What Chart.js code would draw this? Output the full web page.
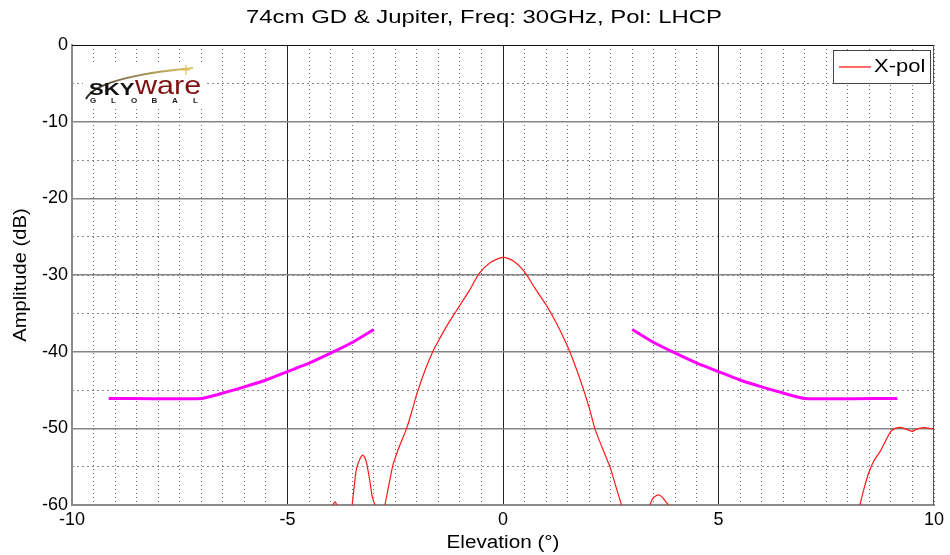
<!DOCTYPE html>
<html>
<head>
<meta charset="utf-8">
<script src="https://cdn.jsdelivr.net/npm/chart.js@4.4.1/dist/chart.umd.min.js"></script>
<style>
  html, body { margin: 0; background: #fff; }
  #wrap { width: 950px; height: 555px; }
</style>
</head>
<body>
<div id="wrap"><canvas id="chart"></canvas></div>
<script>
'use strict';

// ---------------------------------------------------------------------------
// Data
// ---------------------------------------------------------------------------

const TITLE   = '74cm GD & Jupiter, Freq: 30GHz, Pol: LHCP';
const X_LABEL = 'Elevation (°)';
const Y_LABEL = 'Amplitude (dB)';

// measured X-pol pattern, null = below -60 dB floor
const xpolAngle = [
  -3.95, -3.9, -3.85, null,
  -3.5, -3.45, -3.4, -3.32, -3.25, -3.18, -3.1, -3.03, -2.97, null,
  -2.74, -2.6, -2.545, -2.4, -2.235, -2.1, -2.0, -1.8, -1.63, -1.46, -1.3,
  -1.075, -0.8, -0.55, -0.3, 0, 0.25, 0.5, 0.75, 1.0, 1.25, 1.55, 1.8,
  2.0, 2.13, 2.3, 2.48, 2.62, 2.75, null,
  3.41, 3.47, 3.55, 3.62, 3.7, 3.78, 3.84, null,
  8.28, 8.38, 8.48, 8.6, 8.75, 8.9, 9.0, 9.1, 9.25, 9.4, 9.5, 9.6, 9.75, 9.9, 10,
];
const xpolLevel = [
  -60, -59.6, -60, null,
  -60, -57.5, -55.3, -54.0, -53.5, -54.2, -56.5, -59.0, -60, null,
  -60, -56.0, -54.6, -52.3, -50.0, -47.5, -45.5, -42.3, -40.0, -38.2, -36.6,
  -34.6, -32.2, -29.8, -28.4, -27.7, -28.2, -29.6, -31.8, -33.9, -36.4, -40.0, -43.8,
  -47.3, -50.0, -52.5, -55.0, -57.6, -60, null,
  -60, -59.2, -58.8, -58.7, -59.0, -59.6, -60, null,
  -60, -57.8, -55.9, -54.3, -53.0, -51.4, -50.4, -50.0, -49.9, -50.2, -50.4, -50.1, -49.9, -50.0, -50.1,
];

// X-pol mask envelope (two branches)
const maskAngle = [
  -9.15, -7, -6.5, -6, -5.5, -5, -4.5, -4, -3.5, -3, null,
  3, 3.5, 4, 4.5, 5, 5.5, 6, 6.5, 7, 9.15,
];
const maskLevel = [
  -46.1, -46.1, -45.4, -44.6, -43.7, -42.6, -41.5, -40.2, -38.8, -37.1, null,
  -37.1, -38.8, -40.2, -41.5, -42.6, -43.7, -44.6, -45.4, -46.1, -46.1,
];

const xTicks = { min: -10, max: 10, major: 5, minor: 0.5 };
const yTicks = { min: -60, max: 0, major: 10, minor: 5 };

const XPOL_COLOR = '#ff1a1a';
const MASK_COLOR = '#ff00ff';

// ---------------------------------------------------------------------------
// Helpers
// ---------------------------------------------------------------------------

const FONT = '"Liberation Sans", Arial, sans-serif';

function pairs(xs, ys) {
  return xs.map((x, i) => (x == null ? { x: NaN, y: null } : { x, y: ys[i] }));
}

function stretchText(ctx, text, x, y, o) {
  ctx.save();
  ctx.translate(x, y);
  if (o.rotate) ctx.rotate(o.rotate);
  ctx.font = o.font;
  let sx = o.sx || 1;
  if (o.fitWidth) sx = o.fitWidth / ctx.measureText(text).width;
  ctx.scale(sx, 1);
  ctx.fillStyle = o.color || '#000';
  ctx.textAlign = o.align || 'center';
  ctx.textBaseline = 'middle';
  ctx.fillText(text, 0, 0);
  ctx.restore();
}

// ---------------------------------------------------------------------------
// Plugins
// ---------------------------------------------------------------------------

const logoPlugin = {
  id: 'logo',
  beforeDatasetsDraw(chart) {
    const ctx = chart.ctx;
    const { left, top } = chart.chartArea;
    const x0 = left + 13, y0 = top + 20;
    ctx.save();
    ctx.fillStyle = '#fff';
    ctx.fillRect(x0 - 2, y0, 124, 42);

    // swoosh
    const g = ctx.createLinearGradient(x0, 0, x0 + 110, 0);
    g.addColorStop(0, '#222');
    g.addColorStop(0.35, '#8a7a50');
    g.addColorStop(1, '#e2c66a');
    ctx.strokeStyle = g;
    ctx.lineWidth = 1.8;
    ctx.beginPath();
    ctx.moveTo(x0 + 1, y0 + 34);
    ctx.quadraticCurveTo(x0 + 12, y0 + 12, x0 + 108, y0 + 3);
    ctx.stroke();

    // sparkle
    ctx.strokeStyle = '#d9b64a';
    ctx.lineWidth = 1;
    const sx = x0 + 101, sy = y0 + 5;
    ctx.beginPath();
    ctx.moveTo(sx - 4, sy); ctx.lineTo(sx + 4, sy);
    ctx.moveTo(sx, sy - 5); ctx.lineTo(sx, sy + 5);
    ctx.stroke();

    // wordmark
    stretchText(ctx, 'SKY', x0 + 4, y0 + 25, { font: 'bold 17px ' + FONT, sx: 1.3, align: 'left', color: '#111' });
    stretchText(ctx, 'ware', x0 + 50, y0 + 22, { font: '25px ' + FONT, sx: 1.22, align: 'left', color: '#7d1212' });
    ctx.font = 'bold 8px ' + FONT;
    ctx.fillStyle = '#222';
    ctx.textBaseline = 'middle';
    ctx.textAlign = 'center';
    'GLOBAL'.split('').forEach((ch, i) => ctx.fillText(ch, x0 + 8 + i * 20.5, y0 + 36));
    ctx.restore();
  },
};

const framePlugin = {
  id: 'frame',
  afterDatasetsDraw(chart) {
    const ctx = chart.ctx;
    const { left, right, top, bottom } = chart.chartArea;
    ctx.save();
    ctx.lineWidth = 1;
    ctx.strokeStyle = '#111';
    ctx.beginPath();
    ctx.moveTo(left, top + 0.5); ctx.lineTo(right, top + 0.5);
    ctx.stroke();
    ctx.strokeStyle = '#555';
    ctx.beginPath();
    ctx.moveTo(right - 0.5, top); ctx.lineTo(right - 0.5, bottom);
    ctx.stroke();
    ctx.restore();
  },
  afterDraw(chart) {
    const ctx = chart.ctx;
    const { left, right, top, bottom } = chart.chartArea;

    // titles
    stretchText(ctx, TITLE, 484, 18, { font: '18px ' + FONT, fitWidth: 476 });
    stretchText(ctx, X_LABEL, (left + right) / 2, 543, { font: '18px ' + FONT, sx: 1.15 });
    stretchText(ctx, Y_LABEL, 21, (top + bottom) / 2, { font: '18px ' + FONT, sx: 1.12, rotate: -Math.PI / 2 });

    // legend (X-pol only)
    const bw = 97, bh = 33;
    const bx = right - bw - 4, by = top + 5;
    ctx.save();
    ctx.fillStyle = '#fff';
    ctx.fillRect(bx, by, bw, bh);
    ctx.strokeStyle = '#444';
    ctx.lineWidth = 1;
    ctx.strokeRect(bx + 0.5, by + 0.5, bw, bh);
    ctx.strokeStyle = XPOL_COLOR;
    ctx.lineWidth = 1.3;
    ctx.beginPath();
    ctx.moveTo(bx + 6, by + 17); ctx.lineTo(bx + 38, by + 17);
    ctx.stroke();
    ctx.restore();
    stretchText(ctx, chart.data.datasets[0].label, bx + 41, by + 17, { font: '18px ' + FONT, sx: 1.22, align: 'left' });
  },
};

// ---------------------------------------------------------------------------
// Chart
// ---------------------------------------------------------------------------

new Chart(document.getElementById('chart'), {
  type: 'line',
  data: {
    datasets: [
      {
        label:       'X-pol',
        data:        pairs(xpolAngle, xpolLevel),
        borderColor: XPOL_COLOR,
        borderWidth: 1.2,
        pointRadius: 0,
        tension:     0.25,
        spanGaps:    false,
      },
      {
        label:       'Mask',
        data:        pairs(maskAngle, maskLevel),
        borderColor: MASK_COLOR,
        borderWidth: 3,
        pointRadius: 0,
        tension:     0.2,
        spanGaps:    false,
      },
    ],
  },
  options: {
    responsive: true,
    maintainAspectRatio: false,
    animation: false,
    layout: { padding: { top: 45, right: 16, left: 0, bottom: 0 } },
    plugins: {
      legend:  { display: false },
      title:   { display: false },
      tooltip: { enabled: false },
    },
    scales: {
      xMinor: {
        type: 'linear', position: 'bottom', min: xTicks.min, max: xTicks.max,
        ticks:  { display: false, stepSize: xTicks.minor },
        grid:   { color: '#6a6a6a', drawTicks: false },
        border: { display: false, dash: [1, 3] },
        afterFit: s => { s.height = 0; },
      },
      yMinor: {
        type: 'linear', position: 'left', min: yTicks.min, max: yTicks.max,
        ticks:  { display: false, stepSize: yTicks.minor },
        grid:   { color: '#8a8a8a', drawTicks: false },
        border: { display: false, dash: [2, 3] },
        afterFit: s => { s.width = 0; },
      },
      x: {
        type: 'linear', position: 'bottom', min: xTicks.min, max: xTicks.max,
        ticks: {
          stepSize: xTicks.major, color: '#000', padding: 4,
          font: { family: FONT, size: 18 },
        },
        grid: {
          drawTicks: false,
          color: c => (c.tick && Math.abs(c.tick.value) === 10 ? 'rgba(0,0,0,0)' : '#222'),
        },
        border: { color: '#8a8a8a', width: 2 },
        afterFit: s => { s.height = 50; },
      },
      y: {
        type: 'linear', position: 'left', min: yTicks.min, max: yTicks.max,
        ticks: {
          stepSize: yTicks.major, color: '#000', padding: 4,
          font: { family: FONT, size: 18 },
        },
        grid: {
          drawTicks: false,
          lineWidth: 1.6,
          color: c => (c.tick && (c.tick.value === 0 || c.tick.value === -60) ? 'rgba(0,0,0,0)' : '#858585'),
        },
        border: { color: '#8a8a8a', width: 2 },
        afterFit: s => { s.width = 72; },
      },
    },
  },
  plugins: [logoPlugin, framePlugin],
});
</script>
</body>
</html>
